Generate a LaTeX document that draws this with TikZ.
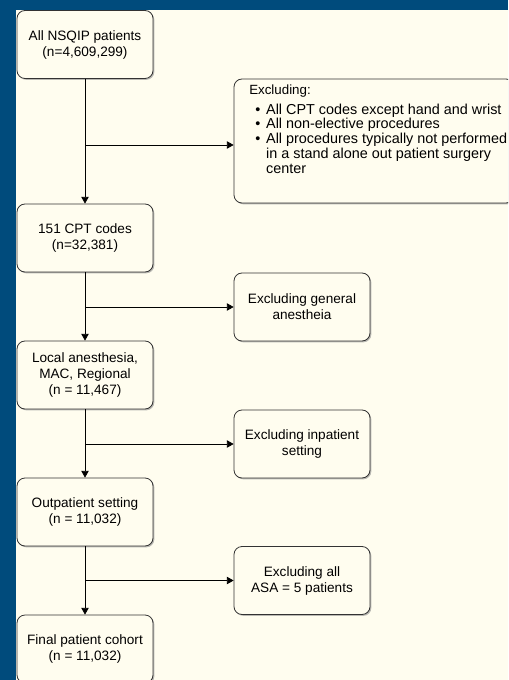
\documentclass[tikz,border=0pt]{standalone}
\usepackage{fontspec}
\setmainfont{Liberation Sans}
\usetikzlibrary{shadows, arrows.meta}
\definecolor{frameblue}{HTML}{004B7C}
\definecolor{paper}{HTML}{FFFDEF}

\begin{document}
\begin{tikzpicture}[x=0.75pt, y=-0.75pt, >={Triangle[length=5pt, width=5.5pt]},
    box/.style={draw=black!80, fill=paper, rounded corners=6pt, line width=0.6pt,
        minimum width=102pt, minimum height=51pt, align=center, inner sep=2pt,
        font=\fontsize{10.2}{12}\selectfont,
        drop shadow={shadow xshift=1pt, shadow yshift=-1pt, fill=black!45, opacity=0.6}},
    flow/.style={->, line width=0.6pt}]

    % page and frame
    \clip (0,0) rectangle (508,680);
    \fill[frameblue] (0,0) rectangle (508,680);
    \fill[paper] (16,10) rectangle (508,680);

    % main column
    \node[box] (all) at (85,44.5) {All NSQIP patients\\(n=4,609,299)};
    \node[box] (cpt) at (85,238) {151 CPT codes\\(n=32,381)};
    \node[box] (local) at (85,375) {Local anesthesia,\\MAC, Regional\\(n = 11,467)};
    \node[box] (outpt) at (85,512) {Outpatient setting\\(n = 11,032)};
    \node[box] (final) at (85,649) {Final patient cohort\\(n = 11,032)};

    % exclusions
    \node[box, minimum width=210pt, minimum height=93pt] (exclcpt) at (374,141) {};
    \node[anchor=north west, inner sep=0pt, font=\fontsize{10.8}{10.95}\selectfont] (exclcpttext) at (249,84) {%
        \begin{tabular}{@{\hspace{4.6pt}}c@{\hspace{4.3pt}}l@{}}
            \multicolumn{2}{@{}l}{\fontsize{10}{10.95}\selectfont Excluding:}\\[3.6pt]
            \textbullet & All CPT codes except hand and wrist\\
            \textbullet & All non-elective procedures\\
            \textbullet & All procedures typically not performed\\
                        & in a stand alone out patient surgery\\
                        & center
        \end{tabular}};
    \node[box] (exclga) at (302,307) {Excluding general\\anestheia};
    \node[box] (exclin) at (302,444) {Excluding inpatient\\setting};
    \node[box] (exclasa) at (302,580.5) {Excluding all\\ASA = 5 patients};

    % vertical flow
    \draw[flow] (all) -- (cpt);
    \draw[flow] (cpt) -- (local);
    \draw[flow] (local) -- (outpt);
    \draw[flow] (outpt) -- (final);

    % branches to the right
    \coordinate (b1) at (85,145);
    \draw[flow] (b1) -- (b1 -| exclcpt.west);
    \draw[flow] (exclga.west -| cpt.south) -- (exclga.west);
    \draw[flow] (exclin.west -| local.south) -- (exclin.west);
    \draw[flow] (exclasa.west -| outpt.south) -- (exclasa.west);

\end{tikzpicture}
\end{document}
